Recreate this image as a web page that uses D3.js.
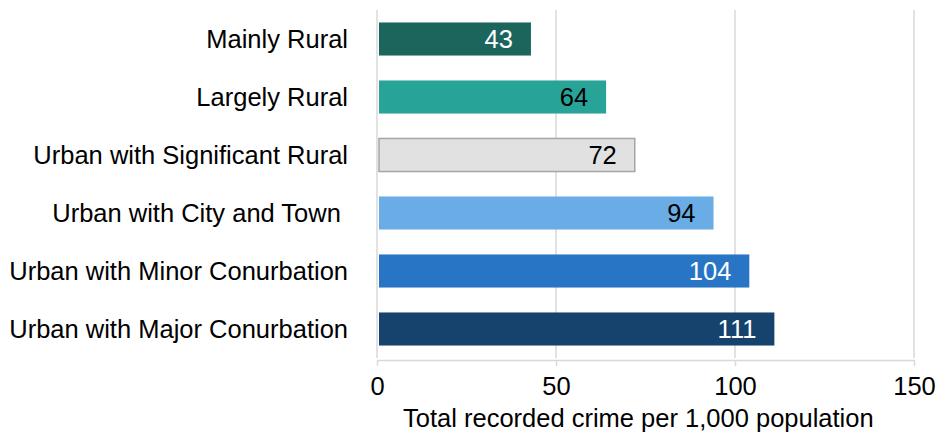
<!DOCTYPE html>
<html>
<head>
<meta charset="utf-8">
<script src="https://cdn.jsdelivr.net/npm/d3@7"></script>
<style>
  html, body { margin: 0; padding: 0; background: #fff; }
  svg { display: block; font-family: "Liberation Sans", Arial, sans-serif; }
</style>
</head>
<body>
<svg id="chart" width="936" height="434"></svg>
<script>
// Recorded crime rate by rural-urban classification
const categories = [
  "Mainly Rural",
  "Largely Rural",
  "Urban with Significant Rural",
  "Urban with City and Town ",
  "Urban with Minor Conurbation",
  "Urban with Major Conurbation"
];
const values = [43, 64, 72, 94, 104, 111];
const barColors = ["#1b655d", "#28a397", "#e1e1e1", "#6aade6", "#2775c4", "#15436e"];
const barStrokes = [null, null, "#a6a6a6", null, null, null];
const labelColors = ["#ffffff", "#000000", "#000000", "#000000", "#ffffff", "#ffffff"];
const xTicks = [0, 50, 100, 150];
const xTitle = "Total recorded crime per 1,000 population";

const FS = 25.5;
const svg = d3.select("#chart");
const margin = { left: 377, right: 22, top: 10, bottom: 76 };
const W = 936, H = 434;

const x = d3.scaleLinear().domain([0, 150]).range([margin.left, W - margin.right]);
const y = d3.scaleBand().domain(categories).range([margin.top, H - margin.bottom])
  .paddingInner(0.43).paddingOuter(0.215);

// vertical gridlines
svg.append("g").selectAll("line").data(xTicks).join("line")
  .attr("x1", d => x(d)).attr("x2", d => x(d))
  .attr("y1", margin.top).attr("y2", H - margin.bottom)
  .attr("stroke", "#d9d9d9").attr("stroke-width", 1.5);

// bars
svg.append("g").selectAll("rect").data(values).join("rect")
  .attr("x", x(0) + 2)
  .attr("y", (d, i) => y(categories[i]))
  .attr("width", d => x(d) - x(0) - 2)
  .attr("height", y.bandwidth())
  .attr("fill", (d, i) => barColors[i])
  .attr("stroke", (d, i) => barStrokes[i] || "none")
  .attr("stroke-width", 1.5);

// value labels inside the bar ends
svg.append("g").selectAll("text").data(values).join("text")
  .attr("x", d => x(d) - 18)
  .attr("y", (d, i) => y(categories[i]) + y.bandwidth() / 2)
  .attr("dy", "0.36em")
  .attr("text-anchor", "end")
  .attr("font-size", FS)
  .attr("fill", (d, i) => labelColors[i])
  .text(d => d);

// category labels
svg.append("g").selectAll("text").data(categories).join("text")
  .attr("x", 348)
  .attr("y", d => y(d) + y.bandwidth() / 2)
  .attr("dy", "0.36em")
  .attr("text-anchor", "end")
  .attr("font-size", FS)
  .attr("fill", "#000")
  .style("white-space", "pre")
  .text(d => d);

// x axis
const axis = svg.append("g")
  .attr("transform", `translate(0,${H - margin.bottom + 2})`)
  .call(d3.axisBottom(x).tickValues(xTicks).tickSize(6).tickPadding(11).tickSizeOuter(0));
axis.select(".domain").attr("stroke", "#d9d9d9").attr("stroke-width", 1.5);
axis.selectAll(".tick line").attr("stroke", "#d9d9d9").attr("stroke-width", 1.5);
axis.selectAll(".tick text")
  .attr("font-size", FS)
  .attr("fill", "#000")
  .attr("font-family", "Liberation Sans, Arial, sans-serif");

svg.append("text")
  .attr("x", x(73))
  .attr("y", 427)
  .attr("text-anchor", "middle")
  .attr("font-size", FS)
  .attr("fill", "#000")
  .text(xTitle);
</script>
</body>
</html>
